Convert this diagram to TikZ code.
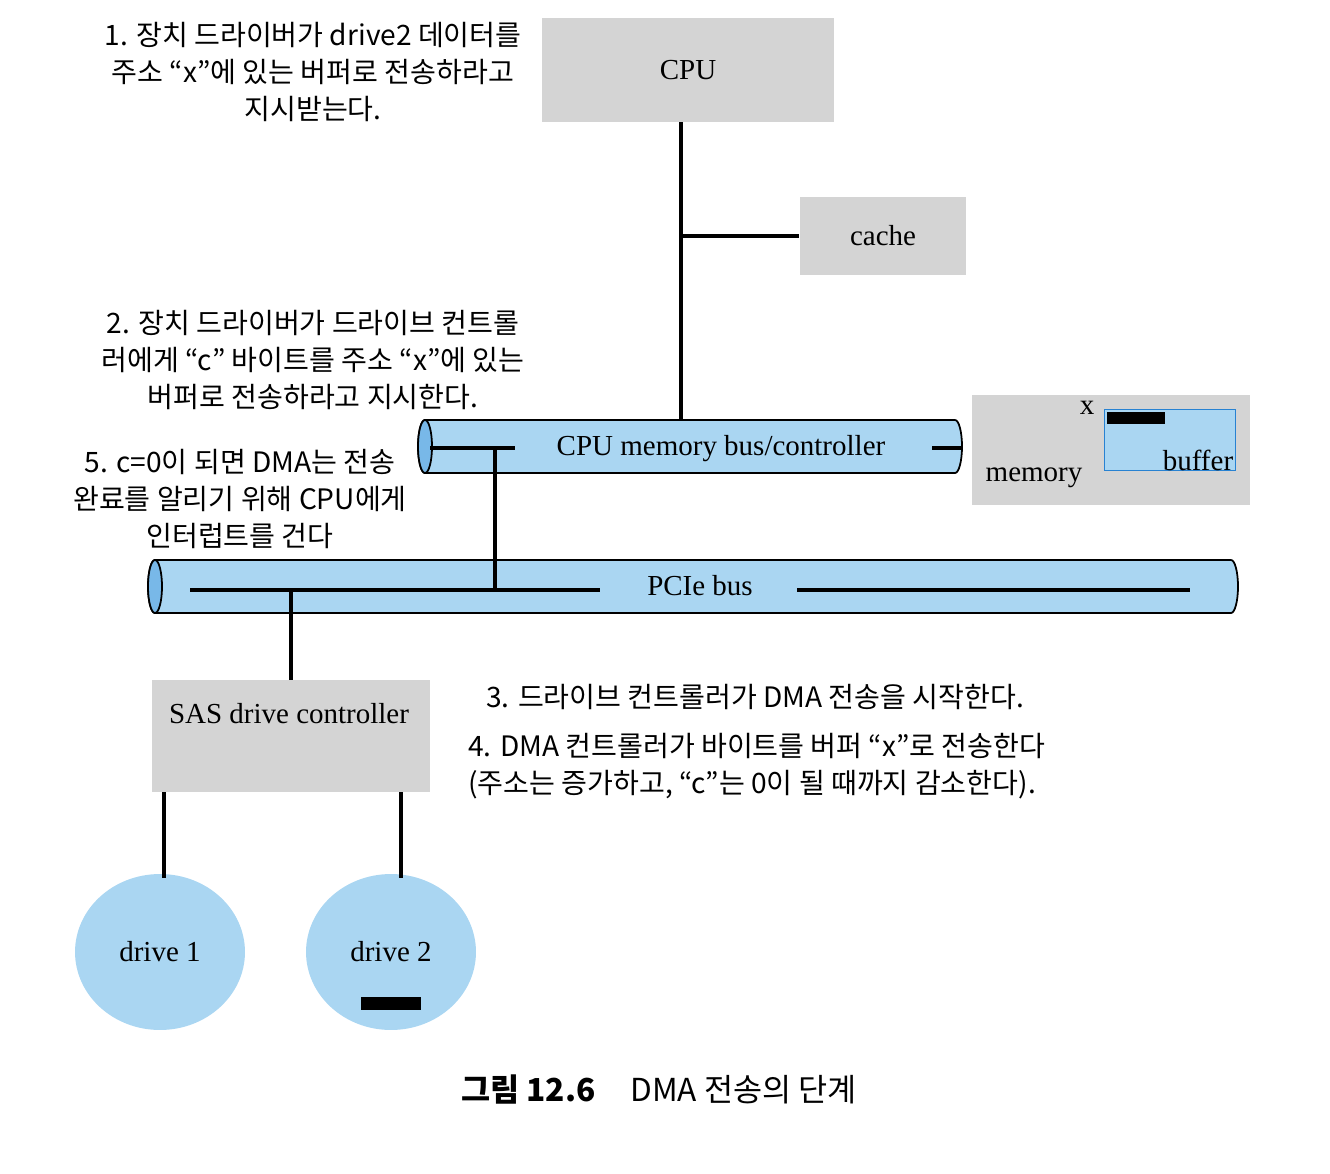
\documentclass[tikz,border=0pt]{standalone}
\usepackage{fontspec}
\usetikzlibrary{positioning,shapes.geometric}
\newfontfamily\krfont{Noto Sans CJK KR}
\newfontfamily\lblfont{Liberation Serif}
\definecolor{boxgray}{RGB}{212,212,212}
\definecolor{busblue}{RGB}{170,214,242}
\definecolor{capblue}{RGB}{120,184,232}
\definecolor{bufline}{RGB}{40,130,210}

\begin{document}
\begin{tikzpicture}[x=0.02cm, y=-0.02cm,
        unit/.style={rectangle, fill=boxgray, inner sep=0pt, font=\lblfont\fontsize{16.5}{19}\selectfont},
        bus/.style={rectangle, inner sep=0pt},
        busbody/.style={draw, line width=1pt, fill=busblue},
        buscap/.style={draw, line width=1pt, fill=capblue},
        drive/.style={ellipse, fill=busblue, minimum width=3.4cm, minimum height=3.12cm,
            inner sep=0pt, font=\lblfont\fontsize{16.5}{19}\selectfont},
        lbl/.style={font=\lblfont\fontsize{16.5}{19}\selectfont, inner sep=0pt},
        note/.style={font=\krfont\fontsize{16}{21}\selectfont, align=center},
        bar/.style={fill=black, inner sep=0pt},
        wire/.style={line width=2pt}
    ]
        \useasboundingbox (0,0) rectangle (1330,1174);

        \node[unit, minimum width=5.86cm, minimum height=2.08cm] (cpu) at (688,70) {CPU};
        \node[unit, minimum width=3.34cm, minimum height=1.58cm] (cache) at (883,236) {cache};

        \draw[busbody] (425,420) -- (955,420) arc[start angle=-90, end angle=90, x radius=7, y radius=26.5]
            -- (425,473) arc[start angle=90, end angle=270, x radius=7, y radius=26.5] -- cycle;
        \draw[buscap] (425,446.5) ellipse[x radius=7, y radius=26.5];
        \node[bus, minimum width=10.88cm, minimum height=1.06cm] (membus) at (690,446.5) {};
        \node[lbl] (membustext) at (721,449) {CPU memory bus/controller};

        \node[unit, minimum width=5.56cm, minimum height=2.22cm] (memory) at (1111,450) {};
        \node[lbl] (memtext) at (1034,478) {memory};
        \node[fill=busblue, draw=bufline, line width=1pt, minimum width=2.62cm,
            minimum height=1.22cm, inner sep=0pt] (buffer) at (1170,440) {};
        \node[bar, minimum width=1.16cm, minimum height=0.24cm] (xdata) at (1136,418) {};
        \node[lbl] (xtext) at (1087,408) {x};
        \node[lbl] (buftext) at (1198,460) {buffer};

        \draw[busbody] (155,560) -- (1231,560) arc[start angle=-90, end angle=90, x radius=7, y radius=26.5]
            -- (155,613) arc[start angle=90, end angle=270, x radius=7, y radius=26.5] -- cycle;
        \draw[buscap] (155,586.5) ellipse[x radius=7, y radius=26.5];
        \node[bus, minimum width=21.8cm, minimum height=1.06cm] (pcie) at (693,586.5) {};
        \node[lbl] (pcietext) at (700,586) {PCIe bus};

        \node[unit, minimum width=5.56cm, minimum height=2.24cm] (sas) at (291,736) {};
        \node[lbl] (sastext) at (289,714) {SAS drive controller};
        \node[drive] (drive1) at (160,952) {drive 1};
        \node[drive] (drive2) at (391,952) {drive 2};
        \node[bar, minimum width=1.2cm, minimum height=0.26cm] (d2data) at (391,1003) {};

        \coordinate (cpujoin) at (681,236);
        \coordinate (m1) at (430,448);
        \coordinate (m2) at (515,448);
        \coordinate (m3) at (932,448);
        \coordinate (m4) at (962,448);
        \coordinate (mtap) at (495,448);
        \coordinate (p1) at (190,590);
        \coordinate (p2) at (600,590);
        \coordinate (p3) at (797,590);
        \coordinate (p4) at (1190,590);
        \coordinate (d1top) at (164,878);
        \coordinate (d2top) at (401,878);

        \draw[wire] (cpu.south -| cpujoin) -- (membus.north -| cpujoin);
        \draw[wire] (cpujoin) -- (cache.west);
        \draw[wire] (m1) -- (m2);
        \draw[wire] (m3) -- (m4);
        \draw[wire] (p1) -- (p2);
        \draw[wire] (p3) -- (p4);
        \draw[wire] (mtap) -- (mtap |- p1);
        \draw[wire] (sas.north) -- (sas.north |- p1);
        \draw[wire] (sas.south -| d1top) -- (d1top);
        \draw[wire] (sas.south -| d2top) -- (d2top);

        \node[note] (step1) at (313,72) {1. 장치 드라이버가 drive2 데이터를\\주소 “x”에 있는 버퍼로 전송하라고\\지시받는다.};
        \node[note] (step2) at (313,360) {2. 장치 드라이버가 드라이브 컨트롤\\러에게 “c” 바이트를 주소 “x”에 있는\\버퍼로 전송하라고 지시한다.};
        \node[note] (step5) at (240,499) {5. c=0이 되면 DMA는 전송\\완료를 알리기 위해 CPU에게\\인터럽트를 건다};
        \node[note, anchor=west] (step3) at (480,697) {3. 드라이브 컨트롤러가 DMA 전송을 시작한다.};
        \node[note, anchor=west, align=left] (step4) at (462,766) {4. DMA 컨트롤러가 바이트를 버퍼 “x”로 전송한다\\(주소는 증가하고, “c”는 0이 될 때까지 감소한다).};

        \node[font=\krfont\fontsize{18}{21}\selectfont] (caption) at (659,1090) {\textbf{그림 12.6}\hspace{1.1em}DMA 전송의 단계};
    \end{tikzpicture}
\end{document}
